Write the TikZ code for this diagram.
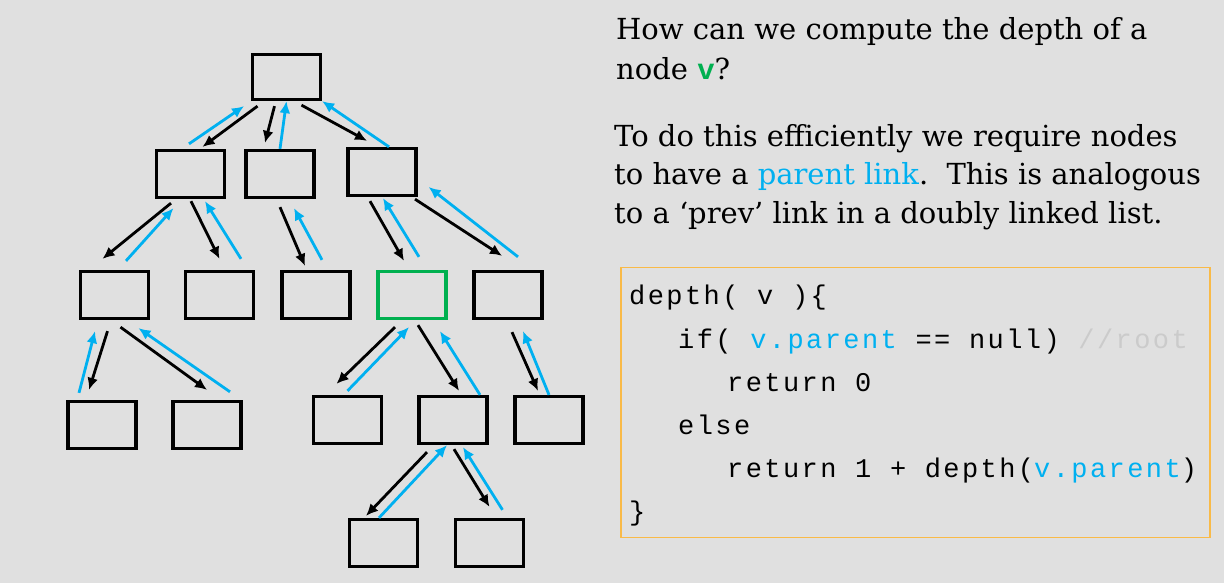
\documentclass[tikz,border=0pt]{standalone}
\usepackage{fontspec}
\setmainfont{DejaVu Serif}
\newfontfamily\codefont[LetterSpace=9]{Liberation Mono}
\usetikzlibrary{arrows.meta}
\definecolor{bg}{HTML}{E0E0E0}
\definecolor{linkblue}{HTML}{00B0F0}
\definecolor{nodegreen}{HTML}{00B050}
\definecolor{boxorange}{HTML}{F9BA48}
\definecolor{commentgray}{HTML}{CBCBCB}

\begin{document}
\begin{tikzpicture}
        [x=1pt,y=-1pt,
        node/.style={rectangle,draw,line width=3.3pt,minimum width=68pt,minimum height=47pt,inner sep=0pt},
        nodeGreen/.style={node,draw=nodegreen},
        down/.style={line width=2.8pt,-{Latex[length=12pt,width=11pt]}},
        up/.style={down,linkblue},
        txt/.style={anchor=base west,inner sep=0pt,font=\fontsize{29}{35}\selectfont},
        code/.style={anchor=base west,inner sep=0pt,font=\codefont\fontsize{27}{31}\selectfont}]
        \fill[bg] (0,0) rectangle (1224,583);

        \node[node,minimum height=45pt] (A) at (286.5,77) {};
        \node[node] (B) at (190.5,174) {};
        \node[node] (C) at (280,174) {};
        \node[node] (D) at (382,172) {};
        \node[node] (E) at (114.5,295) {};
        \node[node] (F) at (219.5,295) {};
        \node[node] (G) at (316,295) {};
        \node[nodeGreen] (V) at (412,295) {};
        \node[node] (H) at (508,295) {};
        \node[node] (I) at (102,425) {};
        \node[node] (J) at (207,425) {};
        \node[node] (K) at (347.5,420) {};
        \node[node] (L) at (453,420) {};
        \node[node] (M) at (549,420) {};
        \node[node] (N) at (383.5,543) {};
        \node[node] (O) at (489.5,543) {};

        \draw[down] ([shift={(-29,5)}]A.south) -- ([shift={(12,-2)}]B.north);
        \draw[up] ([shift={(-1.5,-5)}]B.north) -- ([shift={(-42.5,5)}]A.south);
        \draw[down] ([shift={(-12,5)}]A.south) -- ([shift={(-15,-6)}]C.north);
        \draw[up] (C.north) -- (A.south);
        \draw[down] ([shift={(15,4)}]A.south) -- ([shift={(-15,-6)}]D.north);
        \draw[up] ([shift={(7,0)}]D.north) -- (A.south east);

        \draw[down] ([shift={(-19.5,4)}]B.south) -- ([shift={(-12,-11)}]E.north);
        \draw[up] ([shift={(11.5,-9)}]E.north) -- ([shift={(-17,9)}]B.south);
        \draw[down] ([shift={(0.5,2)}]B.south) -- ([shift={(0,-11)}]F.north);
        \draw[up] ([shift={(21.5,-11)}]F.north) -- ([shift={(14.5,2)}]B.south);
        \draw[down] ([shift={(0,8)}]C.south) -- ([shift={(-11,-4)}]G.north);
        \draw[up] ([shift={(6,-10)}]G.north) -- ([shift={(14,9)}]C.south);
        \draw[down] ([shift={(-12,4)}]D.south) -- ([shift={(-8,-9)}]V.north);
        \draw[up] ([shift={(7,-13)}]V.north) -- ([shift={(1,1)}]D.south);
        \draw[down] ([shift={(33,2)}]D.south) -- ([shift={(-6,-14)}]H.north);
        \draw[up] ([shift={(10,-13)}]H.north) -- ([shift={(11,15)}]D.east);

        \draw[down] ([shift={(-7,11)}]E.south) -- ([shift={(-13,-10)}]I.north);
        \draw[up] ([shift={(-23,-7)}]I.north) -- ([shift={(-19.5,11)}]E.south);
        \draw[down] ([shift={(6,7)}]E.south) -- ([shift={(0,-10)}]J.north);
        \draw[up] ([shift={(23,-8)}]J.north) -- ([shift={(24,8)}]E.south);
        \draw[down] ([shift={(-17,7)}]V.south) -- ([shift={(-11,-11)}]K.north);
        \draw[up] ([shift={(0,-4)}]K.north) -- ([shift={(-3,7)}]V.south);
        \draw[down] ([shift={(6,5)}]V.south) -- ([shift={(6,-4)}]L.north);
        \draw[up] ([shift={(27,0)}]L.north) -- ([shift={(28,11)}]V.south);
        \draw[down] ([shift={(4,12)}]H.south) -- ([shift={(-11,-4)}]M.north);
        \draw[up] (M.north) -- ([shift={(15,11)}]H.south);

        \draw[down] ([shift={(-26,7)}]L.south) -- ([shift={(-17.5,-2)}]N.north);
        \draw[up] ([shift={(-4.5,0)}]N.north) -- ([shift={(-6,0)}]L.south);
        \draw[down] ([shift={(1,4)}]L.south) -- ([shift={(0,-11)}]O.north);
        \draw[up] ([shift={(13,-8)}]O.north) -- ([shift={(10,2)}]L.south);

        % question
        \node[txt] (q1) at (616,39.3) {How can we compute the depth of a};
        \node[txt] (q2) at (616,79.3) {node \textcolor{nodegreen}{\codefont\bfseries v}?};
        \node[txt] (p1) at (614,146.7) {To do this efficiently we require nodes};
        \node[txt] (p2) at (614,185) {to have a \textcolor{linkblue}{parent link}.\ \ This is analogous};
        \node[txt] (p3) at (614,223.3) {to a ‘prev’ link in a doubly linked list.};

        % code
        \node[draw=boxorange,line width=1.3pt,minimum width=589pt,minimum height=270pt,inner sep=0pt] (box) at (915.5,402.3) {};
        \node[code] (c1) at (629,304.3) {depth( v )\{};
        \node[code] (c2) at (678,348.3) {if( \textcolor{linkblue}{v.parent} == null) \textcolor{commentgray}{//root}};
        \node[code] (c3) at (727,391) {return 0};
        \node[code] (c4) at (678,434) {else};
        \node[code] (c5) at (727,477.3) {return 1 + depth(\textcolor{linkblue}{v.parent})};
        \node[code] (c6) at (629,520.6) {\}};
    \end{tikzpicture}
\end{document}
